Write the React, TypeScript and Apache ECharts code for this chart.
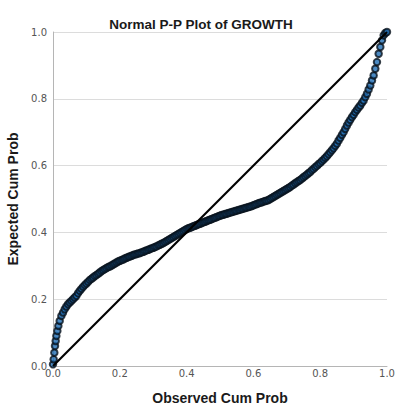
import React, { useEffect, useRef } from "react";
import * as echarts from "echarts";

const TITLE = "Normal P-P Plot of GROWTH";
const X_NAME = "Observed Cum Prob";
const Y_NAME = "Expected Cum Prob";

const observed: number[] = [
  0.0, 0.002, 0.004, 0.006, 0.008, 0.01, 0.013, 0.016, 0.02, 0.025, 0.03, 0.035, 0.04, 0.045,
  0.05, 0.06, 0.07, 0.08, 0.09, 0.1, 0.11, 0.12, 0.13, 0.14, 0.15, 0.16, 0.17, 0.18, 0.19,
  0.2, 0.21, 0.22, 0.23, 0.24, 0.25, 0.26, 0.27, 0.28, 0.29, 0.3, 0.31, 0.32, 0.33, 0.34,
  0.35, 0.36, 0.37, 0.38, 0.39, 0.4, 0.41, 0.42, 0.43, 0.44, 0.45, 0.46, 0.47, 0.48, 0.49,
  0.5, 0.51, 0.52, 0.53, 0.54, 0.55, 0.56, 0.57, 0.58, 0.59, 0.6, 0.61, 0.62, 0.63, 0.64,
  0.65, 0.66, 0.67, 0.68, 0.69, 0.7, 0.71, 0.72, 0.73, 0.74, 0.75, 0.76, 0.77, 0.78, 0.79,
  0.8, 0.81, 0.82, 0.83, 0.84, 0.85, 0.86, 0.87, 0.88, 0.89, 0.9, 0.91, 0.92, 0.93, 0.94,
  0.95, 0.955, 0.96, 0.965, 0.97, 0.975, 0.98, 0.985, 0.99, 0.995, 1.0,
];

const expected: number[] = [
  0.005, 0.02, 0.04, 0.06, 0.075, 0.09, 0.105, 0.12, 0.135, 0.15, 0.16, 0.17, 0.178, 0.185,
  0.19, 0.2, 0.21, 0.225, 0.237, 0.247, 0.257, 0.265, 0.272, 0.28, 0.287, 0.293, 0.298, 0.304, 0.31,
  0.315, 0.319, 0.324, 0.328, 0.332, 0.335, 0.338, 0.342, 0.346, 0.35, 0.354, 0.358, 0.363, 0.368, 0.374,
  0.38, 0.386, 0.392, 0.398, 0.404, 0.41, 0.414, 0.418, 0.422, 0.426, 0.43, 0.434, 0.438, 0.442, 0.446,
  0.45, 0.453, 0.456, 0.459, 0.462, 0.465, 0.468, 0.471, 0.474, 0.477, 0.481, 0.485, 0.489, 0.492, 0.495,
  0.5, 0.506, 0.512, 0.518, 0.524, 0.53, 0.536, 0.543, 0.55, 0.557, 0.565, 0.573, 0.581, 0.59, 0.599,
  0.608, 0.618, 0.628, 0.64, 0.652, 0.666, 0.683, 0.7, 0.72, 0.737, 0.752, 0.767, 0.78, 0.795, 0.815,
  0.84, 0.855, 0.87, 0.89, 0.91, 0.935, 0.955, 0.975, 0.99, 0.997, 1.0,
];

const observedMid: number[] = [
  0.055, 0.065, 0.075, 0.085, 0.095, 0.105, 0.115, 0.125, 0.135, 0.145, 0.155, 0.165, 0.175, 0.185,
  0.195, 0.205, 0.215, 0.225, 0.235, 0.245, 0.255, 0.265, 0.275, 0.285, 0.295, 0.305, 0.315, 0.325,
  0.335, 0.345, 0.355, 0.365, 0.375, 0.385, 0.395, 0.405, 0.415, 0.425, 0.435, 0.445, 0.455, 0.465,
  0.475, 0.485, 0.495, 0.505, 0.515, 0.525, 0.535, 0.545, 0.555, 0.565, 0.575, 0.585, 0.595, 0.605,
  0.615, 0.625, 0.635, 0.645, 0.655, 0.665, 0.675, 0.685, 0.695, 0.705, 0.715, 0.725, 0.735, 0.745,
  0.755, 0.765, 0.775, 0.785, 0.795, 0.805, 0.815, 0.825, 0.835, 0.845, 0.855, 0.865, 0.875, 0.885,
  0.895, 0.905, 0.915, 0.925, 0.935, 0.945,
];

const expectedMid: number[] = [
  0.195, 0.205, 0.218, 0.231, 0.242, 0.252, 0.261, 0.269, 0.276, 0.284, 0.29, 0.296, 0.301, 0.307,
  0.313, 0.317, 0.322, 0.326, 0.33, 0.334, 0.337, 0.34, 0.344, 0.348, 0.352, 0.356, 0.361, 0.366,
  0.371, 0.377, 0.383, 0.389, 0.395, 0.401, 0.407, 0.412, 0.416, 0.42, 0.424, 0.428, 0.432, 0.436,
  0.44, 0.444, 0.448, 0.452, 0.455, 0.458, 0.461, 0.464, 0.467, 0.47, 0.473, 0.476, 0.479, 0.483,
  0.487, 0.49, 0.494, 0.497, 0.503, 0.509, 0.515, 0.521, 0.527, 0.533, 0.54, 0.547, 0.554, 0.561,
  0.569, 0.577, 0.586, 0.595, 0.604, 0.613, 0.623, 0.634, 0.646, 0.659, 0.675, 0.692, 0.71, 0.729,
  0.745, 0.76, 0.774, 0.788, 0.805, 0.828,
];

const diagonal: number[][] = [
  [0, 0],
  [1, 1],
];

export default function App() {
  const ref = useRef<HTMLDivElement>(null);
  useEffect(() => {
    if (!ref.current) return;
    const chart = echarts.init(ref.current, null, { renderer: "svg" });
    const points = observed
      .map((x, i) => [x, expected[i]])
      .concat(observedMid.map((x, i) => [x, expectedMid[i]]))
      .sort((a, b) => a[0] - b[0]);
    const labelColor = "#555";
    chart.setOption({
      animation: false,
      backgroundColor: "#fff",
      title: {
        text: TITLE,
        left: 196,
        textAlign: "center",
        top: 12,
        textStyle: {
          fontFamily: "Liberation Sans",
          fontWeight: "bold",
          fontSize: 13.5,
          color: "#1a1a1a",
        },
      },
      grid: { left: 53, right: 8, top: 32, bottom: 39, outerBoundsMode: "none", containLabel: false },
      xAxis: {
        type: "value",
        min: 0,
        max: 1,
        interval: 0.2,
        name: X_NAME,
        nameLocation: "middle",
        nameGap: 25,
        nameTextStyle: {
          fontFamily: "Liberation Sans",
          fontWeight: "bold",
          fontSize: 14,
          color: "#1a1a1a",
        },
        axisLine: { show: true, lineStyle: { color: "#b5b5b5", width: 1 } },
        axisTick: { show: false },
        splitLine: { show: false },
        axisLabel: {
          fontFamily: "DejaVu Sans",
          fontSize: 10,
          color: labelColor,
          margin: 2,
          formatter: (v: number) => v.toFixed(1),
        },
      },
      yAxis: {
        type: "value",
        min: 0,
        max: 1,
        interval: 0.2,
        name: Y_NAME,
        nameLocation: "middle",
        nameGap: 29,
        nameRotate: 90,
        nameTextStyle: {
          fontFamily: "Liberation Sans",
          fontWeight: "bold",
          fontSize: 14,
          color: "#1a1a1a",
        },
        axisLine: { show: true, lineStyle: { color: "#b5b5b5", width: 1 } },
        axisTick: { show: false },
        splitLine: { show: true, lineStyle: { color: "#dcdcdc", width: 1 } },
        axisLabel: {
          fontFamily: "DejaVu Sans",
          fontSize: 10,
          color: labelColor,
          margin: 6,
          formatter: (v: number) => v.toFixed(1),
        },
      },
      series: [
        {
          type: "scatter",
          data: points,
          symbol: "circle",
          symbolSize: 6.5,
          itemStyle: {
            color: "#1f6db3",
            borderColor: "#08121c",
            borderWidth: 2,
          },
          z: 2,
        },
        {
          type: "line",
          data: diagonal,
          symbol: "none",
          lineStyle: { color: "#000", width: 2.2 },
          z: 3,
        },
      ],
    });
    return () => chart.dispose();
  }, []);
  return (
    <div
      ref={ref}
      style={{ position: "absolute", left: 0, top: 0, width: 395, height: 405 }}
    />
  );
}
